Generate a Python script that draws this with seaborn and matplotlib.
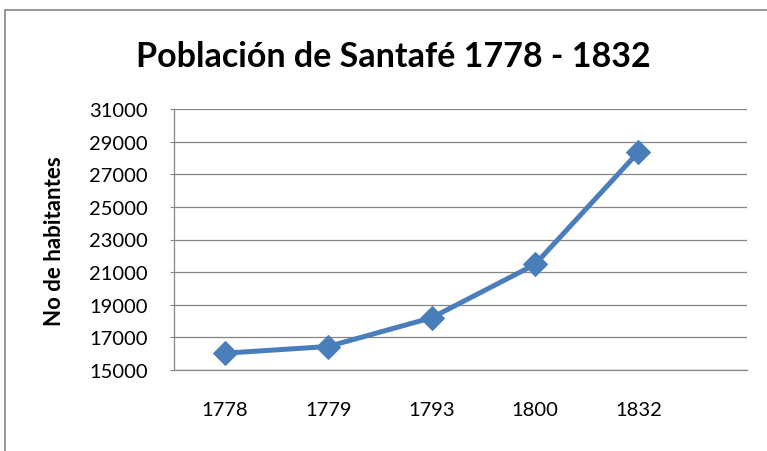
import matplotlib
matplotlib.use("Agg")
import matplotlib.pyplot as plt
import seaborn as sns
import pandas as pd
from matplotlib.lines import Line2D

years = ["1778", "1779", "1793", "1800", "1832"]
population = [16030, 16440, 18200, 21470, 28360]
y_ticks = [15000, 17000, 19000, 21000, 23000, 25000, 27000, 29000, 31000]
title = "Población de Santafé 1778 - 1832"
ylabel = "No de habitantes"

sns.set_theme(style="white")
plt.rcParams["font.family"] = ["Lato", "DejaVu Sans"]
plt.rcParams["text.color"] = "black"
plt.rcParams["xtick.color"] = "black"
plt.rcParams["ytick.color"] = "black"
plt.rcParams["ytick.major.pad"] = 16
plt.rcParams["xtick.major.pad"] = 22

W, H = 767, 452
fig = plt.figure(figsize=(W / 100, H / 100), dpi=100)
ax = fig.add_axes([174 / W, 1 - 371 / H, (747 - 174) / W, (371 - 110) / H])

df = pd.DataFrame({"year": years, "pop": population})
sns.lineplot(data=df, x="year", y="pop", ax=ax, color="#4A7EBB", linewidth=3.6,
             marker="D", markersize=12, markeredgecolor="#4A7EBB")

ax.set_ylim(15000, 31000)
ax.set_yticks(y_ticks)
ax.set_yticklabels([str(v) for v in y_ticks], fontsize=14.5, color="black")
ax.set_xlim(-0.49, 5.05)
ax.set_xticks(range(len(years)))
ax.set_xticklabels(years, fontsize=14.5, color="black")
ax.tick_params(axis="x", length=0, pad=22)
ax.tick_params(axis="y", length=3, width=0.8, color="#868686", pad=16, left=True)
ax.set_xlabel("")
ax.set_ylabel("")
ax.grid(axis="y", color="#868686", linewidth=0.9)
ax.set_axisbelow(True)
for s in ["top", "right"]:
    ax.spines[s].set_visible(False)
for s in ["left", "bottom"]:
    ax.spines[s].set_color("#868686")
    ax.spines[s].set_linewidth(0.9)

fig.text(393 / W, 1 - 57 / H, title, ha="center", va="center", fontsize=24.5,
         fontweight="bold", color="black")
fig.text(55 / W, 1 - 241 / H, ylabel, ha="center", va="center", rotation=90,
         fontsize=16, fontweight="bold", color="black")

# outer chart border (cropped)
fig.add_artist(Line2D([5 / W, 5 / W], [0, 1 - 11 / H], transform=fig.transFigure, color="#868686", linewidth=1.2))
fig.add_artist(Line2D([5 / W, 1], [1 - 11 / H, 1 - 11 / H], transform=fig.transFigure, color="#868686", linewidth=1.2))

fig.savefig("out.png", dpi=100)
